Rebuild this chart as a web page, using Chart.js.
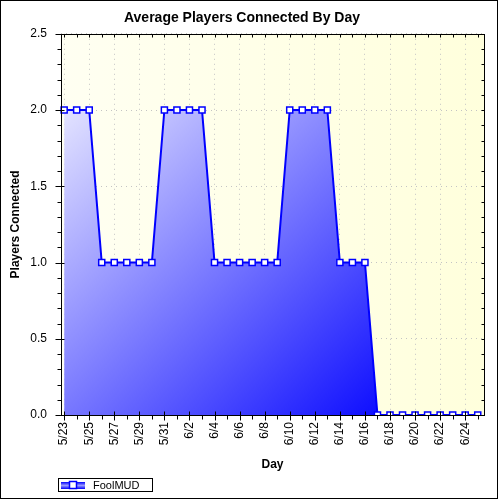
<!DOCTYPE html>
<html>
<head>
<meta charset="utf-8">
<script src="https://cdn.jsdelivr.net/npm/chart.js@4.4.0/dist/chart.umd.min.js"></script>
<style>
    html, body { margin: 0; padding: 0; background: #fff; }
    canvas { display: block; }
</style>
</head>
<body>
<canvas id="chart" width="500" height="500"></canvas>
<script>
const DAYS = ['5/23', '5/24', '5/25', '5/26', '5/27', '5/28', '5/29', '5/30', '5/31',
    '6/1', '6/2', '6/3', '6/4', '6/5', '6/6', '6/7', '6/8', '6/9', '6/10', '6/11', '6/12',
    '6/13', '6/14', '6/15', '6/16', '6/17', '6/18', '6/19', '6/20', '6/21', '6/22', '6/23',
    '6/24', '6/25'];
const PLAYERS = [2, 2, 2, 1, 1, 1, 1, 1, 2, 2, 2, 2, 1, 1, 1, 1, 1, 1,
    2, 2, 2, 2, 1, 1, 1, 0, 0, 0, 0, 0, 0, 0, 0, 0];
const SERIES_NAME = 'FoolMUD';
const Y_TICKS = [0, 0.5, 1.0, 1.5, 2.0, 2.5];

const FONT = 'Arial, "Liberation Sans", sans-serif';

/* ── background, frame, minor ticks, legend ───────────── */
const framePlugin = {
    id: 'frame',
    beforeDraw(chart) {
        const { ctx, chartArea: a } = chart;
        ctx.save();
        ctx.fillStyle = '#fff';
        ctx.fillRect(0, 0, chart.width, chart.height);
        const g = ctx.createLinearGradient(a.left, 0, a.right, 0);
        g.addColorStop(0, '#fffff2');
        g.addColorStop(1, '#ffffdc');
        ctx.fillStyle = g;
        ctx.fillRect(a.left, a.top, a.right - a.left, a.bottom - a.top);
        ctx.restore();
    },
    afterDatasetsDraw(chart) {
        const { ctx, chartArea: a, scales: { x, y } } = chart;
        ctx.save();
        ctx.strokeStyle = '#000';
        ctx.lineWidth = 1;
        const L = Math.round(a.left) + 0.5, R = Math.round(a.right) + 0.5;
        const T = Math.round(a.top) + 0.5, B = Math.round(a.bottom) + 0.5;
        ctx.strokeRect(L, T, R - L, B - T);

        ctx.beginPath();
        DAYS.forEach((d, i) => {
            const px = Math.round(x.getPixelForValue(i)) + 0.5;
            if (i % 2 === 0) { ctx.moveTo(px, B - 4); ctx.lineTo(px, B + 5); }
            else { ctx.moveTo(px, B); ctx.lineTo(px, B + 4); }
            ctx.moveTo(px, T); ctx.lineTo(px, T + 3);
        });
        for (let k = 0; k <= 25; k++) {
            const py = Math.round(y.getPixelForValue(k / 10)) + 0.5;
            if (k % 5 === 0) { ctx.moveTo(L - 6, py); ctx.lineTo(L + 3, py); }
            else { ctx.moveTo(L - 4, py); ctx.lineTo(L, py); }
            ctx.moveTo(R, py); ctx.lineTo(R - 3, py);
        }
        ctx.stroke();
        ctx.restore();
    },
    afterDraw(chart) {
        const { ctx } = chart;
        ctx.save();
        // legend
        ctx.strokeStyle = '#000';
        ctx.lineWidth = 1;
        ctx.strokeRect(58.5, 478.5, 94, 13);
        const lg = ctx.createLinearGradient(0, 482, 0, 489);
        lg.addColorStop(0, '#0000ff');
        lg.addColorStop(0.5, '#9a9aff');
        lg.addColorStop(1, '#0000ff');
        ctx.fillStyle = lg;
        ctx.fillRect(61, 482, 24, 7);
        ctx.fillStyle = '#fff';
        ctx.strokeStyle = '#0000ff';
        ctx.lineWidth = 1.5;
        ctx.fillRect(69.5, 481.5, 7, 7);
        ctx.strokeRect(69.5, 481.5, 7, 7);
        ctx.fillStyle = '#000';
        ctx.font = '11px ' + FONT;
        ctx.textBaseline = 'middle';
        ctx.fillText(chart.data.datasets[0].label, 93, 485.5);
        // outer border
        ctx.strokeStyle = '#000';
        ctx.lineWidth = 1;
        ctx.strokeRect(0.5, 0.5, 497, 498);
        ctx.restore();
    }
};

function areaFill(ctx) {
    const a = ctx.chart.chartArea;
    if (!a) return '#8080ff';
    const g = ctx.chart.ctx.createLinearGradient(a.left, a.top,
        a.left + (a.right - a.left) * 0.85, a.bottom);
    g.addColorStop(0, '#ffffff');
    g.addColorStop(1, '#0000ff');
    return g;
}

new Chart(document.getElementById('chart'), {
    type: 'line',
    data: {
        datasets: [{
            label: SERIES_NAME,
            data: PLAYERS.map((v, i) => ({ x: i, y: v })),
            borderColor: '#0000ff',
            borderWidth: 2,
            backgroundColor: areaFill,
            fill: 'origin',
            tension: 0,
            pointStyle: 'rect',
            pointRadius: 4.3,
            pointBorderWidth: 1.5,
            pointBackgroundColor: '#ffffff',
            pointBorderColor: '#0000ff',
            clip: { left: 10, top: 10, right: 10, bottom: 0 },
        }]
    },
    options: {
        responsive: false,
        animation: false,
        events: [],
        layout: { padding: { left: 0, right: 16, top: 0, bottom: 0 } },
        plugins: {
            legend: { display: false },
            tooltip: { enabled: false },
            title: {
                display: true,
                text: 'Average Players Connected By Day',
                color: '#000',
                font: { family: FONT, size: 14, weight: 'bold' },
                padding: { top: 10, bottom: 7 },
            },
        },
        scales: {
            x: {
                type: 'linear',
                min: -0.25,
                max: 33.5,
                afterFit: s => { s.height = 85; },
                grid: { color: '#c4c4c4', drawTicks: false },
                border: { display: false, dash: [1, 4] },
                ticks: {
                    stepSize: 1,
                    includeBounds: false,
                    autoSkip: false,
                    maxTicksLimit: 100,
                    minRotation: 90,
                    maxRotation: 90,
                    padding: 7,
                    color: '#000',
                    font: { family: FONT, size: 12 },
                    callback: v => (Number.isInteger(v) && v % 2 === 0) ? DAYS[v] : null,
                },
                title: {
                    display: true,
                    text: 'Day',
                    color: '#000',
                    font: { family: FONT, size: 12, weight: 'bold' },
                    padding: { top: 0, bottom: 28 },
                },
            },
            y: {
                min: Y_TICKS[0],
                max: Y_TICKS[Y_TICKS.length - 1],
                afterFit: s => { s.width = 61; },
                afterBuildTicks: s => { s.ticks = Y_TICKS.map(v => ({ value: v })); },
                grid: { color: '#c4c4c4', drawTicks: false },
                border: { display: false, dash: [1, 4] },
                ticks: {
                    padding: 14,
                    color: '#000',
                    font: { family: FONT, size: 12 },
                    callback: v => v.toFixed(1),
                },
                title: {
                    display: true,
                    text: 'Players Connected',
                    color: '#000',
                    font: { family: FONT, size: 12, weight: 'bold' },
                    padding: { top: 8, bottom: 0 },
                },
            },
        },
    },
    plugins: [framePlugin],
});
</script>
</body>
</html>
